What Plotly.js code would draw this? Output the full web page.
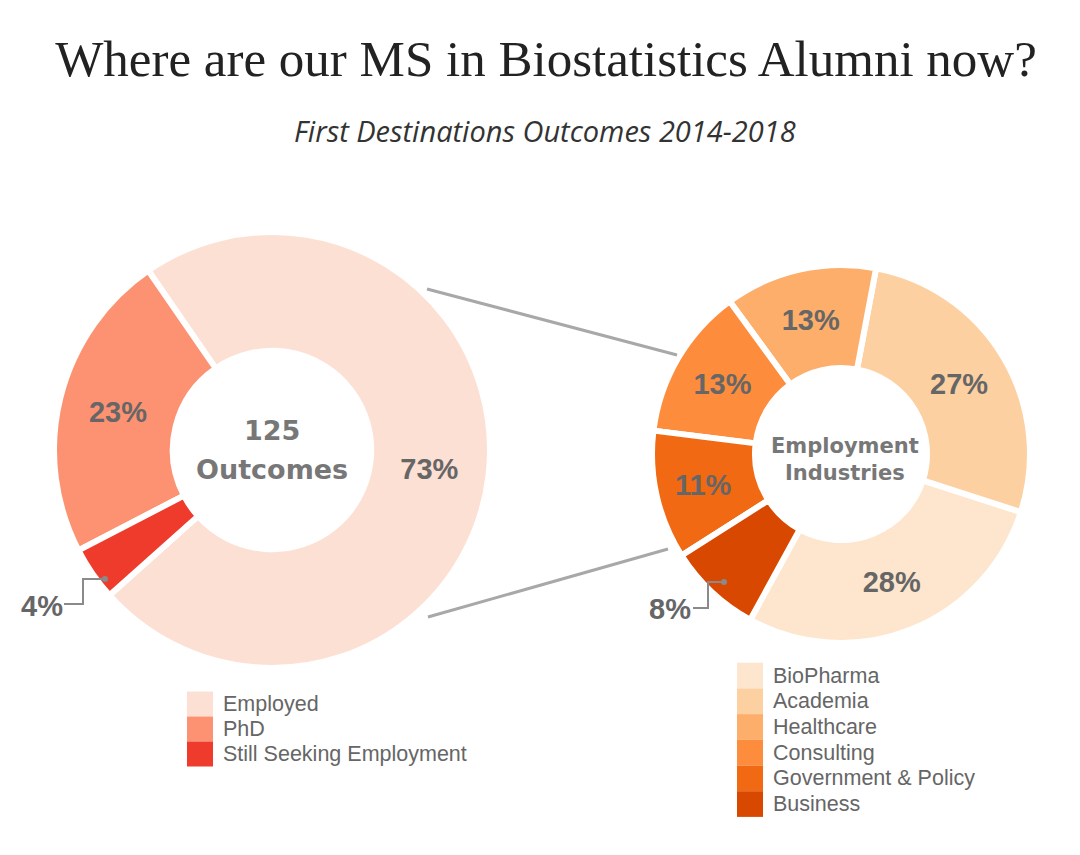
<!DOCTYPE html>
<html>
<head>
<meta charset="utf-8">
<script src="https://cdn.plot.ly/plotly-3.0.1.min.js"></script>
<style>html,body{margin:0;padding:0;background:#fff;}#chart{width:1080px;height:855px;}</style>
</head>
<body>
<div id="chart"></div>
<script>
// ---- data ----
const outcomeLabels = ['Employed', 'PhD', 'Still Seeking Employment'];
const outcomeValues = [73, 23, 4];
const outcomeColors = ['#FDE0D4', '#FC9272', '#EF3B2C'];
const totalOutcomes = 125;

const industryLabels = ['BioPharma', 'Academia', 'Healthcare', 'Consulting', 'Government & Policy', 'Business'];
const industryValues = [28, 27, 13, 13, 11, 8];
const industryColors = ['#FEE6CE', '#FDD0A2', '#FDAE6B', '#FD8D3C', '#F16913', '#D94801'];

const titleText = 'Where are our MS in Biostatistics Alumni now?';
const subtitleText = 'First Destinations Outcomes 2014-2018';
const centerLeft = [String(totalOutcomes), 'Outcomes'];
const centerRight = 'Employment<br>Industries';

// ---- helpers ----
const W = 1080, H = 855;
const px = x => x / W;
const py = y => 1 - y / H;
const gray = '#666666';
const pctFont = {family: 'Liberation Sans, Arial, sans-serif', size: 29, color: gray, weight: 'bold'};

const leftSmall = outcomeValues.map(v => v < 6);
const rightSmall = industryValues.map(v => v < 9);

const traces = [
  {
    type: 'pie',
    labels: outcomeLabels,
    values: outcomeValues,
    marker: {colors: outcomeColors, line: {color: '#ffffff', width: 6}},
    hole: 0.455,
    sort: false,
    direction: 'counterclockwise',
    rotation: -34.6,
    domain: {x: [px(52), px(492)], y: [py(668), py(232)]},
    texttemplate: '%{value}%',
    textposition: leftSmall.map(s => s ? 'none' : 'inside'),
    insidetextorientation: 'horizontal',
    textfont: pctFont,
    hoverinfo: 'none',
    showlegend: false
  },
  {
    type: 'pie',
    labels: industryLabels,
    values: industryValues,
    marker: {colors: industryColors, line: {color: '#ffffff', width: 6}},
    hole: 0.455,
    sort: false,
    direction: 'counterclockwise',
    rotation: 107.9,
    domain: {x: [px(652), px(1030)], y: [py(643), py(265)]},
    texttemplate: '%{value}%',
    textposition: rightSmall.map(s => s ? 'none' : 'inside'),
    insidetextorientation: 'horizontal',
    textfont: pctFont,
    hoverinfo: 'none',
    showlegend: false
  }
];

const annotations = [
  {text: subtitleText, x: px(545), y: py(130), xref: 'paper', yref: 'paper', showarrow: false,
   xanchor: 'center', yanchor: 'middle',
   font: {family: 'Open Sans, Lato, sans-serif', size: 29, color: '#333333', style: 'italic'}},
  {text: centerLeft[0], x: px(272), y: py(430), xref: 'paper', yref: 'paper', showarrow: false,
   xanchor: 'center', yanchor: 'middle',
   font: {family: 'DejaVu Sans, sans-serif', size: 27, color: '#777777', weight: 'bold'}},
  {text: centerLeft[1], x: px(272), y: py(469), xref: 'paper', yref: 'paper', showarrow: false,
   xanchor: 'center', yanchor: 'middle',
   font: {family: 'DejaVu Sans, sans-serif', size: 27, color: '#777777', weight: 'bold'}},
  {text: centerRight, x: px(845), y: py(459), xref: 'paper', yref: 'paper', showarrow: false,
   xanchor: 'center', yanchor: 'middle',
   font: {family: 'DejaVu Sans, sans-serif', size: 21, color: '#777777', weight: 'bold'}},
  {text: outcomeValues[2] + '%', x: px(65), y: py(606), xref: 'paper', yref: 'paper', showarrow: false,
   xanchor: 'right', yanchor: 'middle', font: pctFont},
  {text: industryValues[5] + '%', x: px(693), y: py(609), xref: 'paper', yref: 'paper', showarrow: false,
   xanchor: 'right', yanchor: 'middle', font: pctFont}
];

function pathPx(pts) {
  return pts.map((p, i) => (i ? 'L' : 'M') + px(p[0]) + ',' + py(p[1])).join(' ');
}
const leader = '#8a8a8a';
const shapes = [
  {type: 'line', xref: 'paper', yref: 'paper', x0: px(427), y0: py(289), x1: px(677), y1: py(355),
   line: {color: '#A8A8A8', width: 3}},
  {type: 'line', xref: 'paper', yref: 'paper', x0: px(428), y0: py(617), x1: px(668), y1: py(549),
   line: {color: '#A8A8A8', width: 3}},
  {type: 'path', xref: 'paper', yref: 'paper', path: pathPx([[105, 579], [83, 579], [83, 604], [64, 604]]),
   line: {color: leader, width: 2}},
  {type: 'path', xref: 'paper', yref: 'paper', path: pathPx([[724, 582], [708, 582], [708, 608], [693, 608]]),
   line: {color: leader, width: 2}},
  {type: 'circle', xref: 'paper', yref: 'paper', x0: px(102), x1: px(108), y0: py(582), y1: py(576),
   fillcolor: leader, line: {width: 0}},
  {type: 'circle', xref: 'paper', yref: 'paper', x0: px(721), x1: px(727), y0: py(585), y1: py(579),
   fillcolor: leader, line: {width: 0}}
];

// ---- legends (swatch blocks + labels built from the data arrays) ----
const legendFont = {family: 'Liberation Sans, Arial, sans-serif', size: 21.5, color: gray};
function addLegend(labels, colors, left, top, rowH) {
  labels.forEach((lab, i) => {
    const y0 = top + i * rowH, y1 = y0 + rowH;
    shapes.push({type: 'rect', xref: 'paper', yref: 'paper', x0: px(left), x1: px(left + 26),
                 y0: py(y1), y1: py(y0), fillcolor: colors[i], line: {width: 0}, layer: 'above'});
    annotations.push({text: lab, x: px(left + 34), y: py((y0 + y1) / 2), xref: 'paper', yref: 'paper',
                      showarrow: false, xanchor: 'left', yanchor: 'middle', font: legendFont});
  });
}
addLegend(outcomeLabels, outcomeColors, 187, 691.5, 25);
addLegend(industryLabels, industryColors, 737, 662.7, 25.7);

const layout = {
  width: W, height: H,
  margin: {l: 0, r: 0, t: 0, b: 0},
  paper_bgcolor: '#ffffff',
  title: {text: titleText, x: px(546), y: py(58), xref: 'paper', yref: 'paper', xanchor: 'center', yanchor: 'middle',
          font: {family: 'Liberation Serif, Times New Roman, serif', size: 51, color: '#222222'}},
  showlegend: false,
  annotations: annotations,
  shapes: shapes
};

Plotly.newPlot('chart', traces, layout, {staticPlot: true, displayModeBar: false});
</script>
</body>
</html>
